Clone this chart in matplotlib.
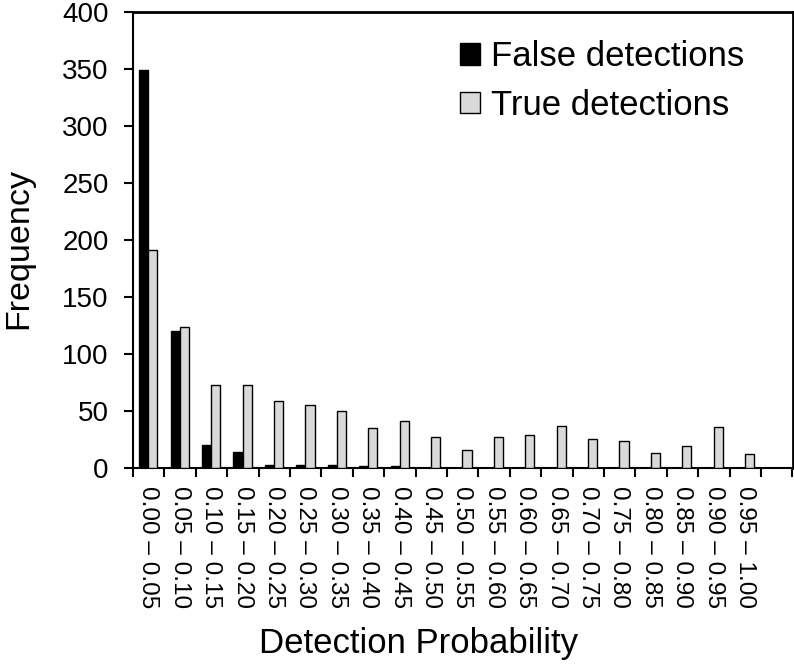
import matplotlib
matplotlib.use("Agg")
import matplotlib.pyplot as plt
import numpy as np

plt.rcParams['font.family'] = ['Liberation Sans', 'DejaVu Sans']

categories = ["0.00 \u2013 0.05", "0.05 \u2013 0.10", "0.10 \u2013 0.15", "0.15 \u2013 0.20",
              "0.20 \u2013 0.25", "0.25 \u2013 0.30", "0.30 \u2013 0.35", "0.35 \u2013 0.40",
              "0.40 \u2013 0.45", "0.45 \u2013 0.50", "0.50 \u2013 0.55", "0.55 \u2013 0.60",
              "0.60 \u2013 0.65", "0.65 \u2013 0.70", "0.70 \u2013 0.75", "0.75 \u2013 0.80",
              "0.80 \u2013 0.85", "0.85 \u2013 0.90", "0.90 \u2013 0.95", "0.95 \u2013 1.00"]
false_detections = [349, 120, 20, 14, 3, 3, 3, 2, 2, 0, 0, 0, 0, 0, 0, 0, 0, 0, 0, 0]
true_detections = [191, 124, 73, 73, 59, 55, 50, 35, 41, 27, 16, 27, 29, 37, 25, 24, 13, 19, 36, 12]
y_ticks = [0, 50, 100, 150, 200, 250, 300, 350, 400]

W, H = 794, 666
fig = plt.figure(figsize=(W/100, H/100), dpi=100)
ax = fig.add_axes([133/W, 1-468/H, (792.5-133)/W, (468-11.7)/H])

n_slots = len(categories) + 1
x = np.arange(len(categories)) + 0.49
w = 0.29
ax.bar(x - w/2, false_detections, width=w, color='black', edgecolor='black', linewidth=1.0,
       label='False detections', zorder=3)
ax.bar(x + w/2, true_detections, width=w, color='#d9d9d9', edgecolor='black', linewidth=1.0,
       label='True detections', zorder=3)

ax.set_xlim(0, n_slots)
ax.set_ylim(0, 400)
ax.set_yticks(y_ticks)
ax.set_yticklabels([str(v) for v in y_ticks], fontsize=20)
ax.tick_params(axis='y', direction='out', length=6.5, width=1.5, pad=11)

ax.set_xticks(np.arange(0, n_slots + 1))
ax.set_xticklabels([])
ax.tick_params(axis='x', which='major', direction='out', length=6.5, width=1.5)
ax.set_xticks(x, minor=True)
ax.set_xticklabels(categories, minor=True, rotation=-90, fontsize=17.5, ha='center', va='top')
ax.tick_params(axis='x', which='minor', length=0, pad=13)

for s in ['left', 'bottom']:
    ax.spines[s].set_linewidth(1.5)
for s in ['top', 'right']:
    ax.spines[s].set_linewidth(2.0)

fig.text(19/W, 1-249/H, 'Frequency', fontsize=24.5, rotation=90, ha='center', va='center')
fig.text(418/W, 1-644/H, 'Detection Probability', fontsize=25, ha='center', va='center')

leg = ax.legend(loc='upper left', bbox_to_anchor=(460/W, 1-40/H), bbox_transform=fig.transFigure,
                frameon=False, fontsize=25,
                handlelength=0.58, handleheight=0.58, handletextpad=0.3, labelspacing=0.45,
                borderaxespad=0, borderpad=0)

fig.savefig('out.png', dpi=100)
